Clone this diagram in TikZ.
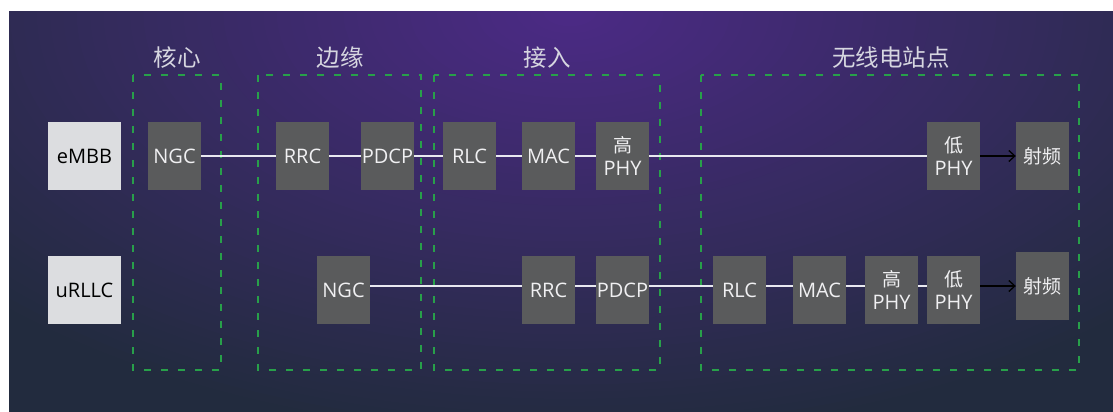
\documentclass[tikz,border=0pt]{standalone}
\usepackage{fontspec}
\setmainfont{Open Sans}
\newfontfamily\cjk{Noto Sans CJK SC}
\usetikzlibrary{arrows.meta}
\definecolor{bgin}{RGB}{76,42,134}
\definecolor{bgout}{RGB}{34,43,62}
\definecolor{blkfill}{RGB}{90,91,92}
\definecolor{lightfill}{RGB}{220,221,224}
\definecolor{blktext}{RGB}{240,240,242}
\definecolor{headtext}{RGB}{214,214,224}
\definecolor{zonegreen}{RGB}{40,160,74}
\definecolor{linec}{RGB}{232,232,240}
\tikzset{
  blk/.style={fill=blkfill, minimum width=53pt, minimum height=68pt, inner sep=0pt,
    text=blktext, font=\fontsize{20}{23}\selectfont, align=center},
  svc/.style={fill=lightfill, minimum width=73pt, minimum height=68pt, inner sep=0pt,
    text=black, font=\fontsize{20}{23}\selectfont},
  head/.style={text=headtext, font=\cjk\fontsize{23.5}{26}\selectfont, inner sep=0pt},
  zone/.style={draw=zonegreen, line width=1.8pt, dash pattern=on 7pt off 10pt},
  conn/.style={draw=linec, line width=1.6pt},
  rfarrow/.style={draw=black, line width=1.3pt, -{Straight Barb[length=6pt,width=11pt,line width=1.3pt]}}
}
\newcommand{\cj}[1]{{\cjk\fontsize{19}{23}\selectfont #1}}
\begin{document}
\begin{tikzpicture}[x=1pt,y=-1pt]
\useasboundingbox (0,0) rectangle (1113,412);
\fill[white] (0,0) rectangle (1113,412);
\begin{scope}
  \clip (9,12) rectangle (1113,412);
  \fill[bgout] (9,12) rectangle (1113,412);
  \foreach \i in {0,...,60}{
    \pgfmathsetmacro\fr{1-\i/60}
    \pgfmathsetmacro\pc{100*\i/60}
    \fill[bgin!\pc!bgout] (570,12) ellipse [x radius=800*\fr, y radius=430*\fr];
  }
\end{scope}

% zones
\draw[zone] (133,75) rectangle (221,370);
\draw[zone] (258,75) rectangle (421,370);
\draw[zone] (434,75) rectangle (660,370);
\draw[zone] (701,75) rectangle (1079,370);

% headers
\node[head] (hcore) at (177,58) {核心};
\node[head] (hedge) at (340,58) {边缘};
\node[head] (hacc)  at (547,58) {接入};
\node[head] (hradio) at (891,58) {无线电站点};

% row 1
\node[svc] (embb) at (84.5,156) {eMBB};
\node[blk] (ngcA) at (174.5,156) {NGC};
\node[blk] (rrcA) at (302.5,156) {RRC};
\node[blk] (pdcpA) at (387.5,156) {PDCP};
\node[blk] (rlcA) at (469.5,156) {RLC};
\node[blk] (macA) at (548.5,156) {MAC};
\node[blk] (hphyA) at (622.5,156) {\cj{高}\\PHY};
\node[blk] (lphyA) at (953.5,156) {\cj{低}\\PHY};
\node[blk] (rfA) at (1042.5,156) {\cj{射频}};

\draw[conn] (ngcA.east) -- (rrcA.west);
\draw[conn] (rrcA.east) -- (pdcpA.west);
\draw[conn] (pdcpA.east) -- (rlcA.west);
\draw[conn] (rlcA.east) -- (macA.west);
\draw[conn] (macA.east) -- (hphyA.west);
\draw[conn] (hphyA.east) -- (lphyA.west);
\draw[rfarrow] (lphyA.east) -- (rfA.west);

% row 2
\node[svc] (urllc) at (84.5,290) {uRLLC};
\node[blk] (ngcB) at (343.5,290) {NGC};
\node[blk] (rrcB) at (548.5,290) {RRC};
\node[blk] (pdcpB) at (622.5,290) {PDCP};
\node[blk] (rlcB) at (739.5,290) {RLC};
\node[blk] (macB) at (819.5,290) {MAC};
\node[blk] (hphyB) at (891.5,290) {\cj{高}\\PHY};
\node[blk] (lphyB) at (953.5,290) {\cj{低}\\PHY};
\node[blk] (rfB) at (1042.5,286) {\cj{射频}};

\draw[conn] ([yshift=4pt]ngcB.east) -- ([yshift=4pt]rrcB.west);
\draw[conn] ([yshift=4pt]rrcB.east) -- ([yshift=4pt]pdcpB.west);
\draw[conn] ([yshift=4pt]pdcpB.east) -- ([yshift=4pt]rlcB.west);
\draw[conn] ([yshift=4pt]rlcB.east) -- ([yshift=4pt]macB.west);
\draw[conn] ([yshift=4pt]macB.east) -- ([yshift=4pt]hphyB.west);
\draw[conn] ([yshift=4pt]hphyB.east) -- ([yshift=4pt]lphyB.west);
\draw[rfarrow] ([yshift=4pt]lphyB.east) -- (rfB.west);
\end{tikzpicture}
\end{document}
